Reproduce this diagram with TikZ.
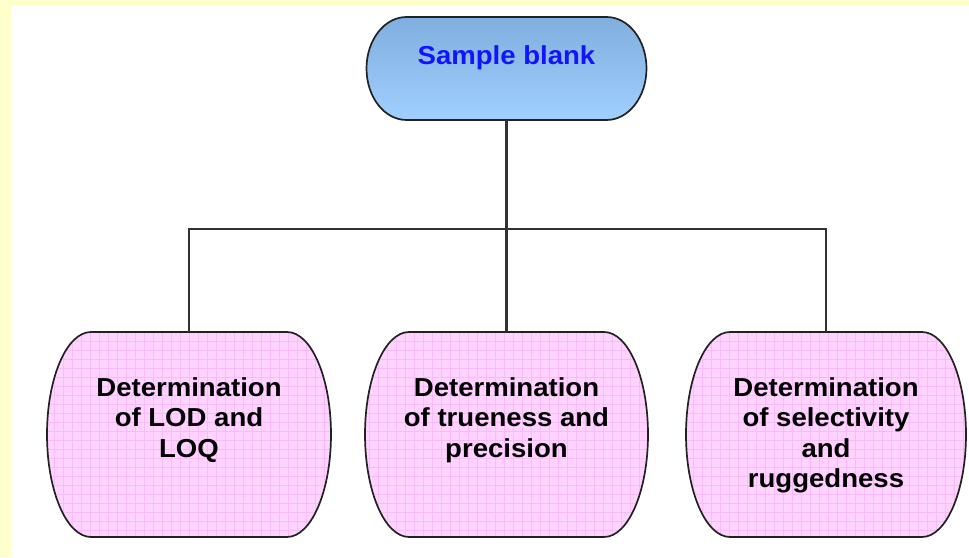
\documentclass[tikz,border=0pt]{standalone}
\usepackage{fontspec}
\setmainfont{Liberation Sans}[FakeStretch=1.06]
\definecolor{bgyellow}{RGB}{255,255,204}
\definecolor{topcol}{RGB}{128,174,222}
\definecolor{botcol}{RGB}{160,208,255}
\definecolor{pinkfill}{RGB}{255,210,255}
\definecolor{pinkgrid}{RGB}{246,188,246}
\definecolor{linecol}{RGB}{50,50,50}
\definecolor{edgecol}{RGB}{34,34,34}
\definecolor{titleblue}{RGB}{20,20,250}
\begin{document}
\begin{tikzpicture}[x=1pt,y=1pt,
  holder/.style={inner sep=0pt, outer sep=0pt, draw=none, minimum width=#1},
  conn/.style={draw=linecol, line width=2.1pt},
  outline/.style={draw=edgecol, line width=1.7pt},
  boxtext/.style={inner sep=0pt, align=center, font=\fontsize{26}{30.5}\selectfont\bfseries, anchor=north},
  toptext/.style={inner sep=0pt, font=\fontsize{26}{30}\selectfont\bfseries, text=titleblue, anchor=base}]
\useasboundingbox (0,0) rectangle (969,557);
\fill[bgyellow] (0,0) rectangle (969,557);
\fill[white] (11,0) rectangle (969,551);

% top node
\node[holder=280pt, minimum height=103pt] (top) at (506.5,488.5) {};
\path[outline, top color=topcol, bottom color=botcol]
  ([xshift=40pt]top.north west) -- ([xshift=-40pt]top.north east)
  arc[start angle=90, end angle=-90, x radius=40, y radius=51.5]
  -- ([xshift=40pt]top.south west)
  arc[start angle=270, end angle=90, x radius=40, y radius=51.5] -- cycle;
\node[toptext] (toplabel) at (506.5,492) {Sample blank};

% bottom boxes
\node[holder=284pt, minimum height=205pt] (b1) at (189,122.5) {};
\node[holder=283pt, minimum height=205pt] (b2) at (506.5,122.5) {};
\node[holder=280pt, minimum height=205pt] (b3) at (826,122.5) {};

\foreach \b in {b1,b2,b3}{
  \begin{scope}
    \clip ([xshift=44pt]\b.north west) -- ([xshift=-44pt]\b.north east)
      arc[start angle=90, end angle=-90, x radius=44, y radius=102.5]
      -- ([xshift=44pt]\b.south west)
      arc[start angle=270, end angle=90, x radius=44, y radius=102.5] -- cycle;
    \fill[pinkfill] (\b.south west) rectangle (\b.north east);
    \draw[pinkgrid, line width=0.7pt, step=9pt] ([shift={(-10pt,-10pt)}]\b.south west) grid ([shift={(10pt,10pt)}]\b.north east);
  \end{scope}
  \draw[outline] ([xshift=44pt]\b.north west) -- ([xshift=-44pt]\b.north east)
      arc[start angle=90, end angle=-90, x radius=44, y radius=102.5]
      -- ([xshift=44pt]\b.south west)
      arc[start angle=270, end angle=90, x radius=44, y radius=102.5] -- cycle;
}

\node[boxtext] (t1) at (189,180) {Determination\\of LOD and\\LOQ};
\node[boxtext] (t2) at (506.5,180) {Determination\\of trueness and\\precision};
\node[boxtext] (t3) at (826,180) {Determination\\of selectivity\\and\\ruggedness};

% connectors
\coordinate (junction) at (506.5,328);
\draw[conn] (top.south) -- (b2.north);
\draw[conn] (b1.north) -- (b1.north |- junction) -- (b3.north |- junction) -- (b3.north);
\end{tikzpicture}
\end{document}
